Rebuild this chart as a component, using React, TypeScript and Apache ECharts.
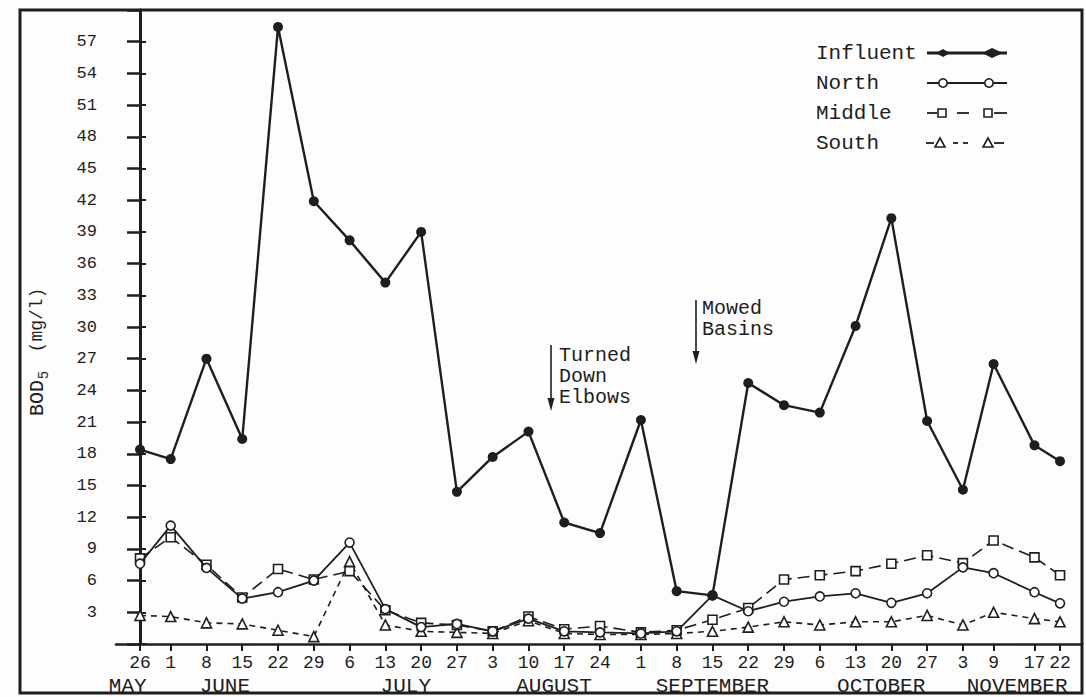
import React, { useEffect, useRef } from "react";
import * as echarts from "echarts";

// days counted from May 26
const days = [0, 6, 13, 20, 27, 34, 41, 48, 55, 62, 69, 76, 83, 90, 98, 105, 112, 119, 126, 133, 140, 147, 154, 161, 167, 175, 180];
const dayLabels = ["26", "1", "8", "15", "22", "29", "6", "13", "20", "27", "3", "10", "17", "24", "1", "8", "15", "22", "29", "6", "13", "20", "27", "3", "9", "17", "22"];
const months = ["MAY", "JUNE", "JULY", "AUGUST", "SEPTEMBER", "OCTOBER", "NOVEMBER"];
const monthDays = [-2.4, 16.6, 52, 81, 112, 145, 171.6];

const influent = [18.4, 17.5, 27.0, 19.4, 58.4, 41.9, 38.2, 34.2, 39.0, 14.4, 17.7, 20.1, 11.5, 10.5, 21.2, 5.0, 4.6, 24.7, 22.6, 21.9, 30.1, 40.3, 21.1, 14.6, 26.5, 18.8, 17.3];
const north = [7.6, 11.2, 7.2, 4.3, 4.9, 6.0, 9.6, 3.3, 1.6, 1.9, 1.2, 2.4, 1.2, 1.1, 1.0, 1.2, 4.6, 3.1, 4.0, 4.5, 4.8, 3.9, 4.8, 7.25, 6.7, 4.9, 3.85];
const middle = [8.1, 10.1, 7.5, 4.4, 7.1, 6.1, 6.9, 3.2, 2.0, 1.8, 1.2, 2.6, 1.4, 1.7, 1.1, 1.3, 2.3, 3.4, 6.1, 6.5, 6.9, 7.6, 8.4, 7.65, 9.8, 8.2, 6.5];
const south = [2.7, 2.6, 2.0, 1.9, 1.3, 0.7, 7.8, 1.8, 1.2, 1.1, 1.0, 2.2, 1.0, 0.9, 0.9, 1.0, 1.2, 1.6, 2.1, 1.8, 2.1, 2.1, 2.7, 1.8, 3.0, 2.4, 2.1];

const seriesNames = ["Influent", "North", "Middle", "South"];

const FONT = "'Liberation Mono', 'DejaVu Sans Mono', monospace";
const INK = "#1e1e1e";

function pairs(vals: number[]) {
  return days.map((d, i) => [d, vals[i]]);
}

function txt(text: string, x: number, y: number, size: number, extra: any = {}) {
  return {
    type: "text",
    x,
    y,
    ...extra,
    style: {
      text,
      fontSize: size,
      fontFamily: FONT,
      fill: INK,
      textAlign: extra.align || "left",
      textVerticalAlign: "middle",
    },
  };
}

function buildGraphic() {
  const g: any[] = [];
  // outer frame
  g.push({ type: "rect", shape: { x: 20, y: 10, width: 1062, height: 683 }, style: { fill: "none", stroke: INK, lineWidth: 3 } });

  // legend
  const ly = [53, 83, 113, 143];
  ly.forEach((y, i) => g.push(txt(seriesNames[i], 816, y, 21)));
  // Influent
  g.push({ type: "line", shape: { x1: 927, y1: 53, x2: 1007, y2: 53 }, style: { stroke: INK, lineWidth: 3 } });
  g.push({ type: "polygon", shape: { points: [[936, 53], [943, 49], [950, 53], [943, 57]] }, style: { fill: INK } });
  g.push({ type: "polygon", shape: { points: [[982, 53], [992, 48], [1003, 53], [992, 58]] }, style: { fill: INK } });
  // North
  g.push({ type: "line", shape: { x1: 927, y1: 83, x2: 1007, y2: 83 }, style: { stroke: INK, lineWidth: 1.8 } });
  [943, 989].forEach((x) => g.push({ type: "circle", shape: { cx: x, cy: 83, r: 4.2 }, style: { fill: "#fff", stroke: INK, lineWidth: 1.6 } }));
  // Middle
  [[927, 937], [957, 969], [994, 1007]].forEach(([a, b]) =>
    g.push({ type: "line", shape: { x1: a, y1: 113, x2: b, y2: 113 }, style: { stroke: INK, lineWidth: 1.8 } })
  );
  [942, 988].forEach((x) => g.push({ type: "rect", shape: { x: x - 4, y: 109, width: 8, height: 8 }, style: { fill: "#fff", stroke: INK, lineWidth: 1.6 } }));
  // South
  [[926, 934], [953, 958], [963, 968], [994, 1004]].forEach(([a, b]) =>
    g.push({ type: "line", shape: { x1: a, y1: 143, x2: b, y2: 143 }, style: { stroke: INK, lineWidth: 1.8 } })
  );
  [940, 988].forEach((x) =>
    g.push({ type: "polygon", shape: { points: [[x - 5, 147], [x, 138], [x + 5, 147]] }, style: { fill: "#fff", stroke: INK, lineWidth: 1.6 } })
  );

  // annotations
  g.push({ type: "line", shape: { x1: 551, y1: 345, x2: 551, y2: 402 }, style: { stroke: INK, lineWidth: 1.6 } });
  g.push({ type: "polygon", shape: { points: [[547.5, 398], [554.5, 398], [551, 411]] }, style: { fill: INK } });
  g.push(txt("Turned", 559, 355, 20));
  g.push(txt("Down", 559, 376, 20));
  g.push(txt("Elbows", 559, 397, 20));

  g.push({ type: "line", shape: { x1: 696, y1: 300, x2: 696, y2: 355 }, style: { stroke: INK, lineWidth: 1.6 } });
  g.push({ type: "polygon", shape: { points: [[692.5, 351], [699.5, 351], [696, 364]] }, style: { fill: INK } });
  g.push(txt("Mowed", 702, 308, 20));
  g.push(txt("Basins", 702, 329, 20));

  // y axis title  BOD5 (mg/l)
  g.push(txt("BOD", 37, 398, 20, { rotation: Math.PI / 2, align: "center" }));
  g.push(txt("5", 44, 375, 14, { rotation: Math.PI / 2, align: "center" }));
  g.push(txt("(mg/l)", 37, 320, 18, { rotation: Math.PI / 2, align: "center" }));
  return g;
}

export default function App() {
  const ref = useRef<HTMLDivElement>(null);
  useEffect(() => {
    document.body.style.margin = "0";
    if (!ref.current) return;
    const chart = echarts.init(ref.current, undefined, { renderer: "svg" });
    const open = { color: "#fff", borderColor: INK, borderWidth: 1.6 };
    chart.setOption({
      animation: false,
      backgroundColor: "#fdfdfd",
      grid: { left: 116, right: 4, top: 10, bottom: 53, containLabel: false },
      xAxis: [
        {
          type: "value",
          min: -4.7,
          max: 184.3,
          position: "bottom",
          splitLine: { show: false },
          axisLine: { show: true, onZero: false, lineStyle: { color: INK, width: 2.5 } },
          axisTick: { show: true, customValues: days, length: 7, lineStyle: { color: INK, width: 2 } },
          axisLabel: {
            customValues: days,
            formatter: (v: number) => {
              const i = days.indexOf(v);
              return i >= 0 ? dayLabels[i] : "";
            },
            margin: 10,
            fontSize: 18,
            fontFamily: FONT,
            color: INK,
          },
        },
        {
          type: "value",
          min: -4.7,
          max: 184.3,
          position: "bottom",
          offset: 0,
          splitLine: { show: false },
          axisLine: { show: false },
          axisTick: { show: false },
          axisLabel: {
            customValues: monthDays,
            formatter: (v: number) => {
              const i = monthDays.indexOf(v);
              return i >= 0 ? months[i] : "";
            },
            margin: 32,
            fontSize: 21,
            fontFamily: FONT,
            color: INK,
          },
        },
      ],
      yAxis: [
        {
          type: "value",
          min: 0,
          max: 60,
          interval: 3,
          splitLine: { show: false },
          axisLine: { show: true, lineStyle: { color: INK, width: 3 } },
          axisTick: { show: true, length: 13, lineStyle: { color: INK, width: 2.5 } },
          axisLabel: {
            formatter: (v: number) => (v > 0 && v < 60 ? String(v) : ""),
            margin: 19,
            fontSize: 17,
            fontFamily: FONT,
            color: INK,
          },
        },
        {
          type: "value",
          min: 0,
          max: 60,
          interval: 3,
          position: "right",
          splitLine: { show: false },
          axisLine: { show: true, lineStyle: { color: INK, width: 2.5 } },
          axisTick: { show: true, length: 6, lineStyle: { color: INK, width: 2 } },
          axisLabel: { show: false },
        },
      ],
      series: [
        {
          name: "South",
          type: "line",
          data: pairs(south),
          symbol: "triangle",
          symbolSize: 10,
          itemStyle: open,
          lineStyle: { color: INK, width: 1.6, type: [6, 5] },
          z: 2,
        },
        {
          name: "Middle",
          type: "line",
          data: pairs(middle),
          symbol: "rect",
          symbolSize: 9,
          itemStyle: open,
          lineStyle: { color: INK, width: 1.6, type: [12, 6] },
          z: 3,
        },
        {
          name: "North",
          type: "line",
          data: pairs(north),
          symbol: "circle",
          symbolSize: 9,
          itemStyle: open,
          lineStyle: { color: INK, width: 1.8 },
          z: 4,
        },
        {
          name: "Influent",
          type: "line",
          data: pairs(influent),
          symbol: "circle",
          symbolSize: 10,
          itemStyle: { color: INK },
          lineStyle: { color: INK, width: 2.4 },
          z: 5,
        },
      ],
      graphic: buildGraphic(),
    });
    return () => chart.dispose();
  }, []);
  return <div ref={ref} style={{ width: 1086, height: 697 }} />;
}
